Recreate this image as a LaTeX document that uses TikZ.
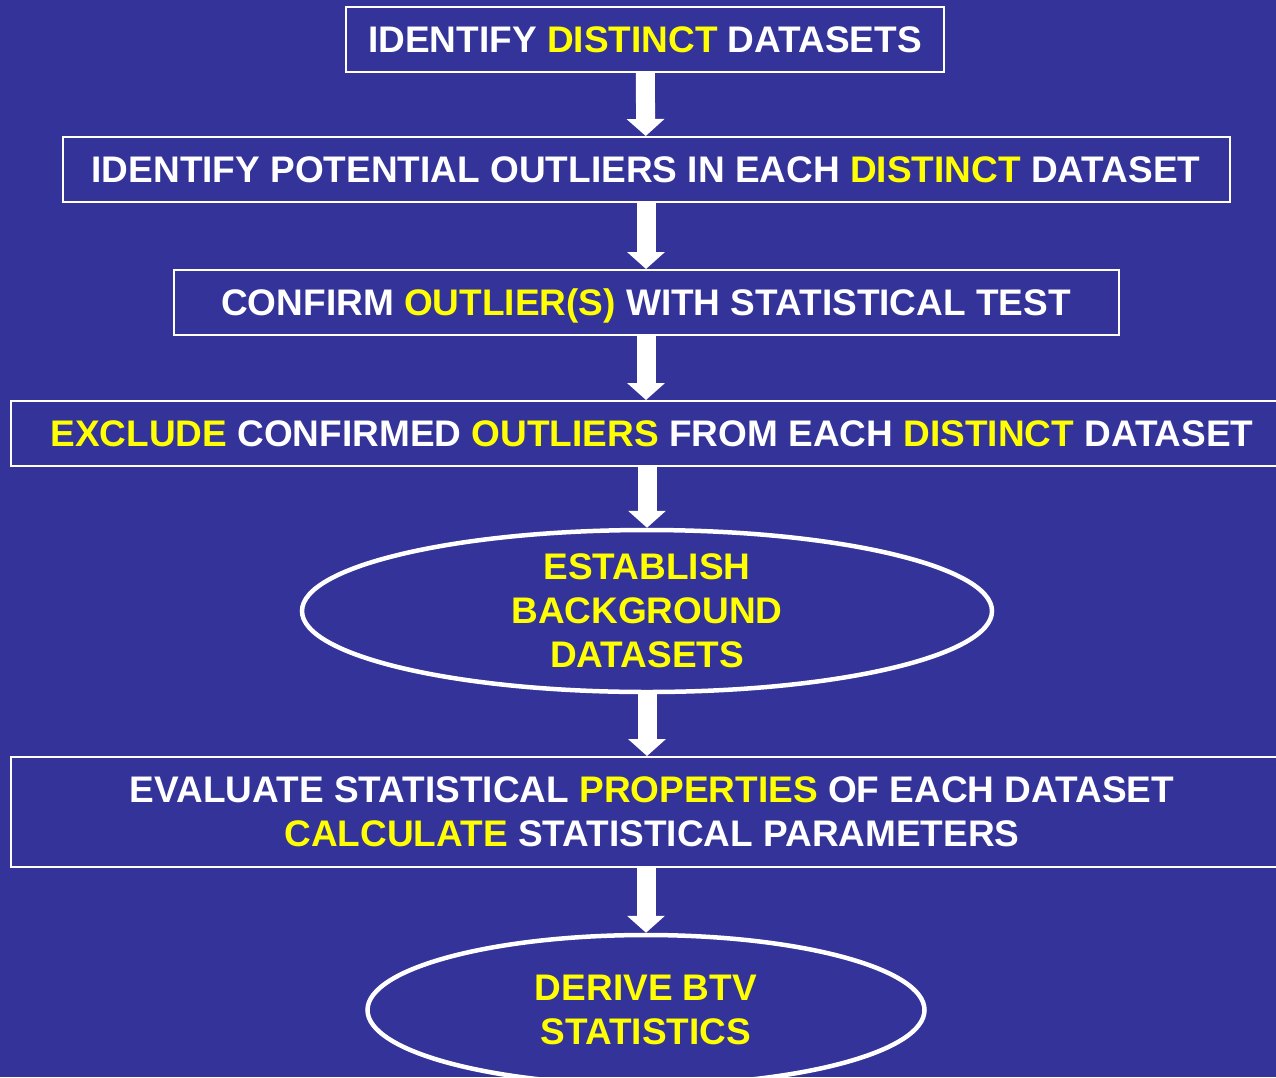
\documentclass[tikz,border=0pt]{standalone}
\usepackage{fontspec}
\setmainfont{Liberation Sans}
\usetikzlibrary{shapes.geometric,arrows.meta}
\definecolor{slidebg}{RGB}{51,51,153}
\definecolor{hilite}{RGB}{255,255,0}
\newcommand{\hl}[1]{\textcolor{hilite}{#1}}
\begin{document}
\begin{tikzpicture}[x=1pt, y=-1pt, font=\fontsize{37}{44}\selectfont\bfseries,
    stepbox/.style={draw=white, line width=2pt, text=white, minimum height=65pt, inner sep=0pt},
    oneline/.style={text height=26.5pt, text depth=0pt},
    goal/.style={ellipse, draw=white, line width=4.5pt, text=hilite, align=center, inner sep=0pt},
    flow/.style={white, line width=19pt, -{Triangle[width=37pt,length=17pt]}}]
    \useasboundingbox (0,0) rectangle (1276,1077);
    \fill[slidebg] (0,0) rectangle (1276,1077);
    % steps
    \node[stepbox, oneline, minimum width=598pt] (ident) at (645,39.5) {IDENTIFY \hl{DISTINCT} DATASETS};
    \node[stepbox, oneline, minimum width=1167pt] (potential) at (646,169.5) {IDENTIFY POTENTIAL OUTLIERS IN EACH \hl{DISTINCT} DATASET};
    \node[stepbox, oneline, minimum width=945pt] (confirm) at (646,302.5) {CONFIRM \hl{OUTLIER(S)} WITH STATISTICAL TEST};
    \node[stepbox, oneline, minimum width=1282pt] (exclude) at (652,433.5) {\hl{EXCLUDE} CONFIRMED \hl{OUTLIERS} FROM EACH \hl{DISTINCT} DATASET};
    \node[goal, minimum width=690pt, minimum height=162pt] (establish) at (647,611) {ESTABLISH\\BACKGROUND\\DATASETS};
    \node[stepbox, align=center, minimum width=1282pt, minimum height=110pt] (evaluate) at (652,812) {EVALUATE STATISTICAL \hl{PROPERTIES} OF EACH DATASET\\\hl{CALCULATE} STATISTICAL PARAMETERS};
    \node[goal, minimum width=557pt, minimum height=150pt] (derive) at (646,1010) {DERIVE BTV\\STATISTICS};
    % arrows
    \draw[flow] (ident) -- (potential);
    \draw[flow] (potential) -- (confirm);
    \draw[flow] (confirm.south) -- (exclude.north -| confirm);
    \draw[flow] (exclude.south -| establish) -- (establish.north);
    \draw[flow] (establish.south) -- (evaluate.north -| establish);
    \draw[flow] (evaluate.south -| derive) -- (derive.north);
\end{tikzpicture}
\end{document}
